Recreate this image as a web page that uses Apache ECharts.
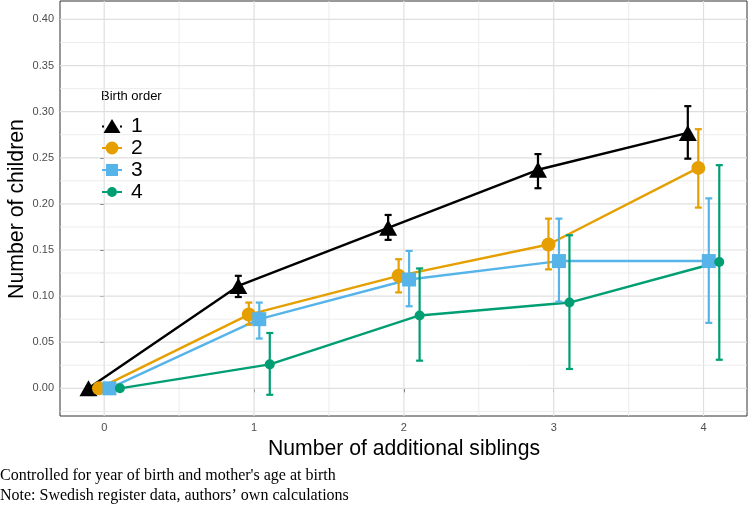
<!DOCTYPE html>
<html><head><meta charset="utf-8">
<script src="https://cdn.jsdelivr.net/npm/echarts@6/dist/echarts.min.js"></script>
<style>html,body{margin:0;padding:0;background:#fff}#c{width:751px;height:509px}</style>
</head><body><div id="c"></div>
<script>
// ---- data ----
const siblings = [0, 1, 2, 3, 4];
const birthOrders = ['1', '2', '3', '4'];
const mean1 = [0, 0.111, 0.174, 0.237, 0.277];
const low1  = [0, 0.099, 0.161, 0.217, 0.249];
const high1 = [0, 0.122, 0.188, 0.254, 0.306];
const mean2 = [0, 0.080, 0.122, 0.156, 0.239];
const low2  = [0, 0.069, 0.104, 0.129, 0.196];
const high2 = [0, 0.093, 0.140, 0.184, 0.281];
const mean3 = [0, 0.075, 0.118, 0.138, 0.138];
const low3  = [0, 0.054, 0.089, 0.094, 0.071];
const high3 = [0, 0.093, 0.149, 0.184, 0.206];
const mean4 = [0, 0.026, 0.079, 0.093, 0.137];
const low4  = [0, -0.007, 0.030, 0.021, 0.031];
const high4 = [0, 0.060, 0.130, 0.166, 0.242];
const yTicks = [0, 0.05, 0.10, 0.15, 0.20, 0.25, 0.30, 0.35, 0.40];
const yMinor = [-0.025, 0.025, 0.075, 0.125, 0.175, 0.225, 0.275, 0.325, 0.375];
const xTicks = [0, 1, 2, 3, 4];
const xMinor = [0.5, 1.5, 2.5, 3.5];

// ---- styling ----
const means = [mean1, mean2, mean3, mean4];
const lows = [low1, low2, low3, low4];
const highs = [high1, high2, high3, high4];
const colors = ['#000000', '#E69F00', '#56B4E9', '#009E73'];
const symbols = ['triangle', 'circle', 'rect', 'circle'];
const symbolSizes = [[18, 16], 14, 14, 10];
const legendIcons = [
  'path://M0,7.5H2V9.5H0Z M18,7.5H20V9.5H18Z M10,1L18.5,15L1.5,15Z',
  'path://M0,7.5H4V9.5H0Z M16,7.5H20V9.5H16Z M3.5,8.5A6.5,6.5 0 1,1 16.5,8.5A6.5,6.5 0 1,1 3.5,8.5Z',
  'path://M0,7.5H4V9.5H0Z M16,7.5H20V9.5H16Z M4,2.5H16V14.5H4Z',
  'path://M0,7.5H5V9.5H0Z M15,7.5H20V9.5H15Z M5,8.5A5,5 0 1,1 15,8.5A5,5 0 1,1 5,8.5Z'
];
const dodgeWidth = 0.21;
const offsets = birthOrders.map((_, g) => (g - 1.5) * dodgeWidth / 3);

const gridData = [];
xTicks.forEach(v => gridData.push([0, v, 1]));
xMinor.forEach(v => gridData.push([0, v, 0]));
yTicks.forEach(v => gridData.push([1, v, 1]));
yMinor.forEach(v => gridData.push([1, v, 0]));

const series = [{
  type: 'custom', name: 'grid', silent: true, z: 1,
  data: gridData,
  renderItem(params, api) {
    const cs = params.coordSys;
    const kind = api.value(0), v = api.value(1), major = api.value(2);
    const style = { stroke: major ? '#DFDFDF' : '#E9E9E9', lineWidth: major ? 1.2 : 0.8 };
    if (kind === 0) {
      const px = api.coord([v, 0])[0];
      return { type: 'line', shape: { x1: px, y1: cs.y, x2: px, y2: cs.y + cs.height }, style };
    }
    const py = api.coord([0, v])[1];
    return { type: 'line', shape: { x1: cs.x, y1: py, x2: cs.x + cs.width, y2: py }, style };
  }
}];

birthOrders.forEach((name, g) => {
  series.push({
    type: 'line', name, z: 3,
    data: siblings.map((s, i) => [s + offsets[g], means[g][i]]),
    symbol: symbols[g], symbolSize: symbolSizes[g], showSymbol: true,
    itemStyle: { color: colors[g] },
    lineStyle: { color: colors[g], width: 2.4 }
  });
});
birthOrders.forEach((name, g) => {
  const col = colors[g];
  series.push({
    type: 'custom', name: 'err' + name, z: 4, silent: true,
    data: siblings.map((s, i) => [s + offsets[g], lows[g][i], highs[g][i]]),
    encode: { x: 0, y: [1, 2] },
    renderItem(params, api) {
      const x = api.value(0), lo = api.value(1), hi = api.value(2);
      if (lo === hi) return null;
      const p1 = api.coord([x, hi]), p2 = api.coord([x, lo]);
      const hw = 3.5, st = { stroke: col, lineWidth: 2.2 };
      return { type: 'group', children: [
        { type: 'line', shape: { x1: p1[0], y1: p1[1], x2: p2[0], y2: p2[1] }, style: st },
        { type: 'line', shape: { x1: p1[0] - hw, y1: p1[1], x2: p1[0] + hw, y2: p1[1] }, style: st },
        { type: 'line', shape: { x1: p2[0] - hw, y1: p2[1], x2: p2[0] + hw, y2: p2[1] }, style: st }
      ] };
    }
  });
});

const chart = echarts.init(document.getElementById('c'), null, { renderer: 'canvas' });
chart.setOption({
  animation: false,
  backgroundColor: '#ffffff',
  grid: { left: 60, right: 4, top: 1, bottom: 93, show: true, borderColor: '#333333', borderWidth: 1, backgroundColor: '#ffffff' },
  xAxis: {
    type: 'value', min: -0.295, max: 4.29,
    axisLine: { show: false },
    splitLine: { show: false },
    axisTick: { show: true, length: 4, lineStyle: { color: '#333333' }, customValues: xTicks },
    axisLabel: { color: '#4D4D4D', fontSize: 11, fontFamily: 'Liberation Sans', margin: 6, customValues: xTicks, formatter: v => String(v) }
  },
  yAxis: {
    type: 'value', min: -0.03, max: 0.42,
    axisLine: { show: false },
    splitLine: { show: false },
    axisTick: { show: true, length: 4, lineStyle: { color: '#333333' }, customValues: yTicks },
    axisLabel: { color: '#4D4D4D', fontSize: 11, fontFamily: 'Liberation Sans', margin: 6, customValues: yTicks, formatter: v => v.toFixed(2) }
  },
  legend: {
    data: birthOrders.map((name, g) => ({ name, icon: legendIcons[g] })),
    orient: 'vertical', left: 97, top: 110,
    itemWidth: 20, itemHeight: 17, itemGap: 0,
    textStyle: { fontSize: 21, color: '#000', fontFamily: 'Liberation Sans', lineHeight: 22, padding: [0, 0, 0, 4] }
  },
  graphic: [
    { type: 'text', left: 101, top: 90, style: { text: 'Birth order', fontSize: 13, fontFamily: 'Liberation Sans', fill: '#000' } },
    { type: 'text', x: 17, y: 209, rotation: Math.PI / 2, style: { text: 'Number of children', fontSize: 21.3, fontFamily: 'Liberation Sans', fill: '#000', align: 'center', verticalAlign: 'middle' } },
    { type: 'text', x: 404, y: 449, style: { text: 'Number of additional siblings', fontSize: 21.2, fontFamily: 'Liberation Sans', fill: '#000', align: 'center', verticalAlign: 'middle' } },
    { type: 'text', x: 0, y: 476, style: { text: "Controlled for year of birth and mother's age at birth", fontSize: 16, fontFamily: 'Liberation Serif', fill: '#000', verticalAlign: 'middle' } },
    { type: 'text', x: 0, y: 496, style: { text: 'Note: Swedish register data, authors\u2019 own calculations', fontSize: 16, fontFamily: 'Liberation Serif', fill: '#000', verticalAlign: 'middle' } }
  ],
  series
});
</script></body></html>
